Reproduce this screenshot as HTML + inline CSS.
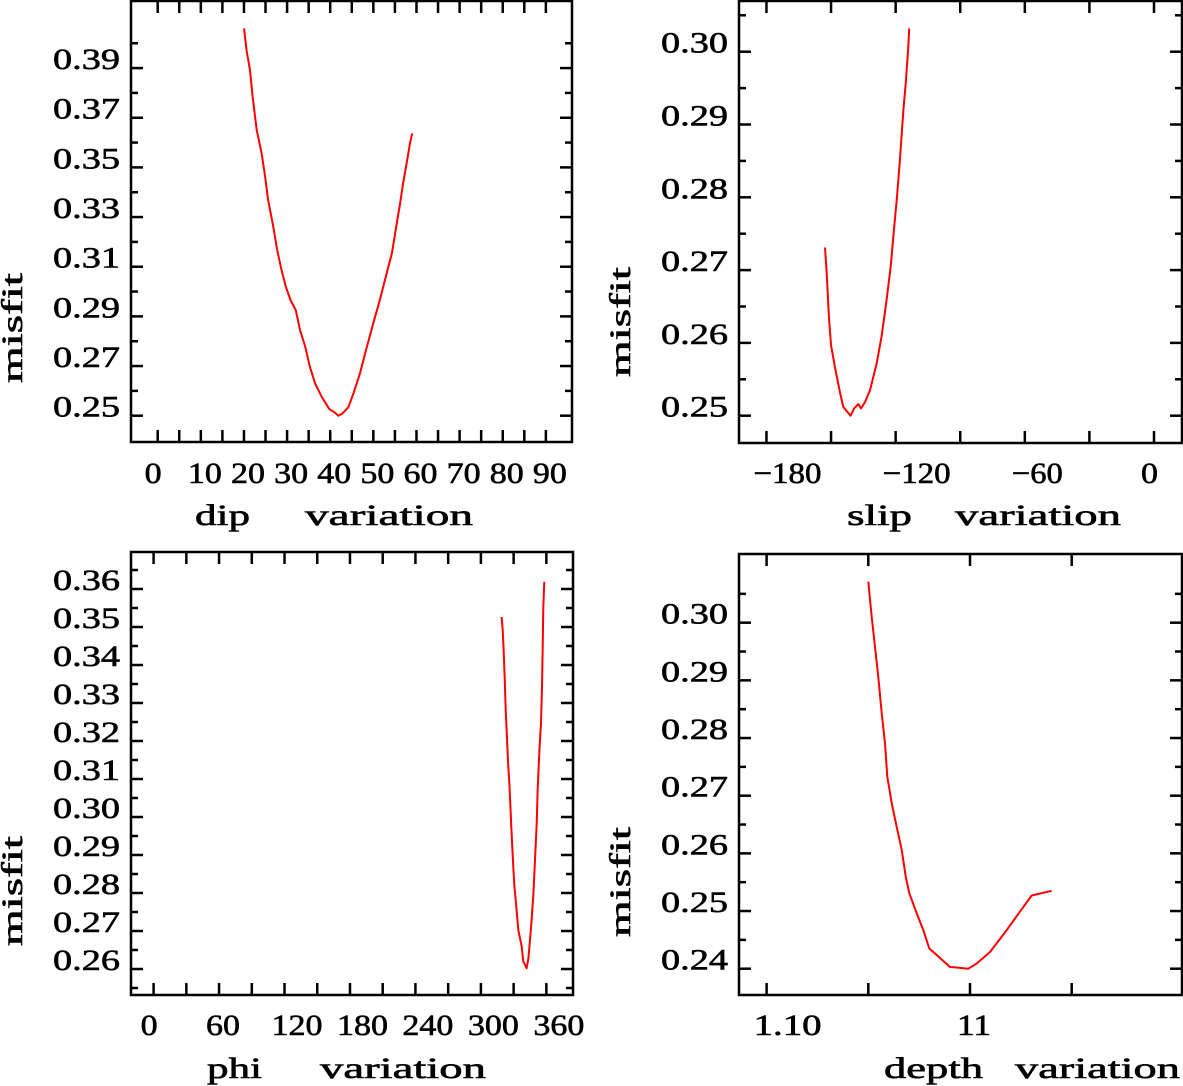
<!DOCTYPE html>
<html><head><meta charset="utf-8"><style>
html,body{margin:0;padding:0;background:#fff;}
svg{display:block;}
text{font-family:"Liberation Serif",serif;fill:#000;stroke:#000;stroke-width:0.6;}
</style></head>
<body>
<svg id="fig" width="1183" height="1086" viewBox="0 0 1183 1086" xmlns="http://www.w3.org/2000/svg"></svg>
<script>
// ---- Data (top-level arrays) ----
const dipX = [20.0,20.6,21.4,22.0,22.95,24.1,24.9,25.6,26.8,27.7,28.7,29.7,30.8,32.0,33.0,34.2,35.3,36.5,38.0,39.8,41.1,41.9,42.9,44.2,45.4,46.9,48.5,50.0,51.5,53.1,54.3,55.3,56.2,56.9,57.7,58.5,59.0];
const dipY = [0.4060,0.3973,0.3892,0.3785,0.3651,0.3557,0.3463,0.3369,0.3261,0.3167,0.3087,0.3020,0.2966,0.2926,0.2845,0.2778,0.2697,0.2630,0.2577,0.2526,0.2512,0.2500,0.2510,0.2534,0.2590,0.2671,0.2778,0.2872,0.2966,0.3074,0.3154,0.3261,0.3355,0.3436,0.3516,0.3597,0.3637];
const slipX = [-152.8,-152.0,-151.0,-150.0,-148.2,-145.8,-144.3,-140.9,-139.3,-137.3,-136.1,-134.2,-131.9,-128.8,-126.5,-124.2,-122.3,-120.8,-119.5,-118.0,-116.4,-115.2,-114.1,-113.7];
const slipY = [0.2731,0.2696,0.2636,0.2597,0.2567,0.2531,0.2512,0.2500,0.2510,0.2516,0.2510,0.2519,0.2535,0.2572,0.2609,0.2659,0.2705,0.2755,0.2796,0.2851,0.2920,0.2961,0.3007,0.3032];
const phiX = [319.0,320.0,320.9,321.8,322.7,323.9,324.8,326.1,327.0,327.9,328.8,329.7,330.7,331.9,333.1,334.3,335.8,337.4,338.9,340.4,341.9,343.5,345.0,346.5,348.1,349.6,351.1,352.0,352.9,353.8,355.1,356.0,356.6,357.2,358.1];
const phiY = [0.3526,0.3492,0.3435,0.3365,0.3282,0.3207,0.3146,0.3087,0.3029,0.2974,0.2920,0.2868,0.2817,0.2782,0.2742,0.2703,0.2681,0.2659,0.2619,0.2611,0.2602,0.2628,0.2676,0.2729,0.2799,0.2887,0.2983,0.3067,0.3128,0.3185,0.3247,0.3343,0.3448,0.3553,0.3619];
const depthX = [10.900,10.9033,10.9066,10.9098,10.9132,10.9164,10.9187,10.9230,10.9279,10.9328,10.9368,10.9403,10.9476,10.9541,10.9600,10.9672,10.9803,10.9869,10.9983,11.0066,11.0197,11.0361,11.0492,11.0607,11.0803];
const depthY = [0.3071,0.3010,0.2958,0.2906,0.2843,0.2791,0.2733,0.2687,0.2646,0.2606,0.2560,0.2531,0.2496,0.2467,0.2435,0.2424,0.2403,0.2402,0.2400,0.2409,0.2429,0.2467,0.2499,0.2527,0.2535];

const dipXTicks = [0,10,20,30,40,50,60,70,80,90];
const dipXTickLabels = ["0","10","20","30","40","50","60","70","80","90"];
const dipYTicks = [0.25,0.27,0.29,0.31,0.33,0.35,0.37,0.39];
const dipYTickLabels = ["0.25","0.27","0.29","0.31","0.33","0.35","0.37","0.39"];
const slipXTicks = [-180,-120,-60,0];
const slipXTickLabels = ["\u2212180","\u2212120","\u221260","0"];
const slipYTicks = [0.25,0.26,0.27,0.28,0.29,0.30];
const slipYTickLabels = ["0.25","0.26","0.27","0.28","0.29","0.30"];
const phiXTicks = [0,60,120,180,240,300,360];
const phiXTickLabels = ["0","60","120","180","240","300","360"];
const phiYTicks = [0.26,0.27,0.28,0.29,0.30,0.31,0.32,0.33,0.34,0.35,0.36];
const phiYTickLabels = ["0.26","0.27","0.28","0.29","0.30","0.31","0.32","0.33","0.34","0.35","0.36"];
const depthXTicks = [10.8,11.0];
const depthXTickLabels = ["1.10","11"];
const depthYTicks = [0.24,0.25,0.26,0.27,0.28,0.29,0.30];
const depthYTickLabels = ["0.24","0.25","0.26","0.27","0.28","0.29","0.30"];

const NS = "http://www.w3.org/2000/svg";
const svg = document.getElementById('fig');
function mk(tag, attrs, parent){
  const e = document.createElementNS(NS, tag);
  for (const k in attrs) e.setAttribute(k, attrs[k]);
  (parent||svg).appendChild(e);
  return e;
}

const panels = [
  {key:'dip', box:[131,1,572,442], x0:0, px0:157.7, pxPer:4.313, y0:0.25, py0:415.7, pyPer:2483,
   xs:dipX, ys:dipY, xt:dipXTicks, xl:dipXTickLabels, yt:dipYTicks, yl:dipYTickLabels,
   xMinor:[0,90,5], yMinor:[0.25,0.401,0.01], xt1:"dip", xt2:"variation", xt1x:195, xt2x:305, xtw1:55, xtw2:168, tby:525, mx:12, my:328},
  {key:'slip', box:[739,1,1182,443], x0:0, px0:1154, pxPer:2.153, y0:0.25, py0:415.7, pyPer:7280,
   xs:slipX, ys:slipY, xt:slipXTicks, xl:slipXTickLabels, yt:slipYTicks, yl:slipYTickLabels,
   xMinor:[-180,0,30], yMinor:[0.245,0.306,0.005], xt1:"slip", xt2:"variation", xt1x:847, xt2x:955, xtw1:65, xtw2:166, tby:525, mx:620, my:322},
  {key:'phi', box:[131,552,573,995], x0:0, px0:153.6, pxPer:1.091, y0:0.26, py0:969, pyPer:3800,
   xs:phiX, ys:phiY, xt:phiXTicks, xl:phiXTickLabels, yt:phiYTicks, yl:phiYTickLabels,
   xMinor:[0,360,30], yMinor:[0.255,0.366,0.005], xt1:"phi", xt2:"variation", xt1x:207, xt2x:320, xtw1:55, xtw2:166, tby:1078, mx:12, my:891},
  {key:'depth', box:[739,554,1182,995], x0:11.0, px0:970, pxPer:1017, y0:0.24, py0:968.7, pyPer:5767,
   xs:depthX, ys:depthY, xt:depthXTicks, xl:depthXTickLabels, yt:depthYTicks, yl:depthYTickLabels,
   xMinor:[10.8,11.11,0.1], yMinor:[0.235,0.306,0.005], xt1:"depth", xt2:"variation", xt1x:884, xt2x:1015, xtw1:99, xtw2:165, tby:1078, mx:620, my:882}
];

panels.forEach(p => {
  const g = mk('g', {});
  
  
  const X = v => p.px0 + (v - p.x0) * p.pxPer;
  const Y = v => p.py0 - (v - p.y0) * p.pyPer;
  const [l,t,r,b] = p.box;

  const tg = mk('g', {stroke:'#000','stroke-width':2.5}, g);
  
  
  for (let v = p.xMinor[0]; v <= p.xMinor[1] + 1e-9; v += p.xMinor[2]) {
    const x = X(v);
    if (x <= l + 2 || x >= r - 2) continue;
    mk('line', {x1:x, y1:b, x2:x, y2:b-12}, tg);
    mk('line', {x1:x, y1:t, x2:x, y2:t+12}, tg);
  }
  for (let v = p.yMinor[0]; v <= p.yMinor[1] + 1e-9; v += p.yMinor[2]) {
    const y = Y(v);
    if (y <= t + 2 || y >= b - 2) continue;
    const major = p.yt.some(q => Math.abs(q - v) < 1e-6);
    const len = major ? 12 : 7;
    mk('line', {x1:l, y1:y, x2:l+len, y2:y}, tg);
    mk('line', {x1:r, y1:y, x2:r-len, y2:y}, tg);
  }
  const fr = mk('rect', {x:l, y:t, width:r-l, height:b-t, fill:'none', stroke:'#000', 'stroke-width':2.5}, g);
  
  

  p.yt.forEach((v, i) => {
    const s = p.yl[i];
    const tx = mk('text', {x:l-11, y:Y(v)+1, 'text-anchor':'end', 'font-size':30, textLength:67, lengthAdjust:'spacingAndGlyphs'}, g);
    tx.textContent = s;
    
    
  });
  p.xt.forEach((v, i) => {
    const s = p.xl[i];
    const w = s.length * 17;
    const tx = mk('text', {x:X(v)-13, y:483, 'font-size':30, textLength:w, lengthAdjust:'spacingAndGlyphs'}, g);
    if (p.key === 'phi' || p.key === 'depth') tx.setAttribute('y', 1035);
    tx.textContent = s;
    
    
  });

  const t1 = mk('text', {x:p.xt1x, y:p.tby, 'font-size':30, textLength:p.xtw1, lengthAdjust:'spacingAndGlyphs'}, g);
  t1.textContent = p.xt1;
  
  
  const t2 = mk('text', {x:p.xt2x, y:p.tby, 'font-size':30, textLength:p.xtw2, lengthAdjust:'spacingAndGlyphs'}, g);
  t2.textContent = p.xt2;
  
  
  const yt = mk('text', {x:0, y:0, 'text-anchor':'middle', 'font-size':30, textLength:110, lengthAdjust:'spacingAndGlyphs',
    transform:'translate(' + (p.mx + 10) + ',' + p.my + ') rotate(-90)'}, g);
  yt.textContent = 'misfit';
  
  

  const pts = p.xs.map((v, i) => X(v).toFixed(1) + ',' + Y(p.ys[i]).toFixed(1)).join(' ');
  const pl = mk('polyline', {points:pts, fill:'none', stroke:'#ff0000', 'stroke-width':2, 'stroke-linejoin':'round'}, g);
  
  
});
</script>
</body></html>
